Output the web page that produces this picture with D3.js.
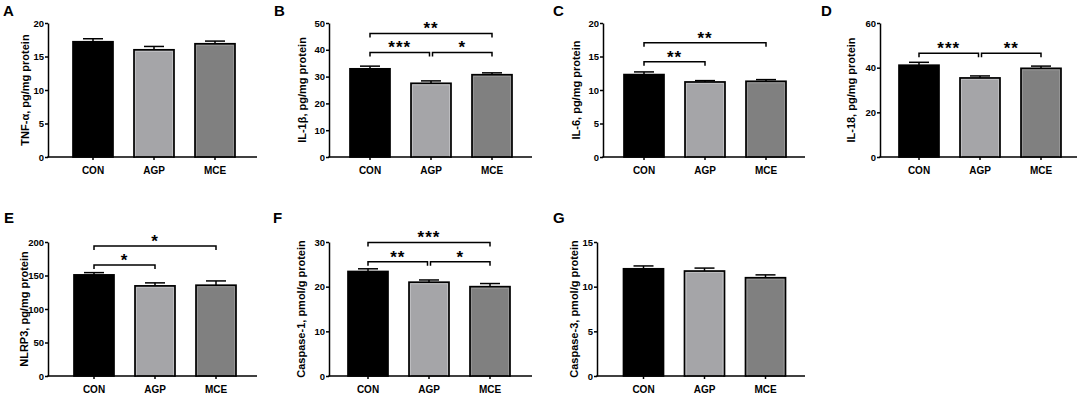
<!DOCTYPE html>
<html>
<head>
<meta charset="utf-8">
<script src="https://cdn.jsdelivr.net/npm/d3@7"></script>
<style>
  html, body { margin: 0; padding: 0; background: #fff; }
  svg { display: block; }
  text { font-family: "Liberation Sans", Arial, sans-serif; font-weight: bold; fill: #000; }
</style>
</head>
<body>
<svg id="chart" width="1084" height="395"></svg>
<script>
// ---------- data ----------
const groups = ["CON", "AGP", "MCE"];
const panelLetters = ["A", "B", "C", "D", "E", "F", "G"];
const yTitles = [
  "TNF-\u03b1, pg/mg protein",
  "IL-1\u03b2, pg/mg protein",
  "IL-6, pg/mg protein",
  "IL-18, pg/mg protein",
  "NLRP3, pg/mg protein",
  "Caspase-1, pmol/g protein",
  "Caspase-3, pmol/g protein"
];
const tnfMean = [17.2, 16.0, 16.9],   tnfSem = [0.45, 0.5, 0.4];
const il1bMean = [32.9, 27.5, 30.7],  il1bSem = [1.0, 0.9, 0.7];
const il6Mean = [12.3, 11.2, 11.3],   il6Sem = [0.4, 0.2, 0.25];
const il18Mean = [41.1, 35.4, 39.7],  il18Sem = [1.3, 0.9, 1.0];
const nlrp3Mean = [150.9, 134.5, 135.5], nlrp3Sem = [3.4, 4.5, 6.4];
const casp1Mean = [23.4, 21.0, 20.0], casp1Sem = [0.6, 0.5, 0.7];
const casp3Mean = [12.0, 11.75, 11.0], casp3Sem = [0.32, 0.33, 0.32];

const yTicksA = [0, 5, 10, 15, 20];
const yTicksB = [0, 10, 20, 30, 40, 50];
const yTicksC = [0, 5, 10, 15, 20];
const yTicksD = [0, 20, 40, 60];
const yTicksE = [0, 50, 100, 150, 200];
const yTicksF = [0, 10, 20, 30];
const yTicksG = [0, 5, 10, 15];

// significance brackets: [fromIndex, toIndex, height (data units), label]
const sigA = [];
const sigB = [[0, 2, 46.1, "**"], [0, 1, 39.0, "***"], [1, 2, 39.0, "*"]];
const sigC = [[0, 2, 17.05, "**"], [0, 1, 14.2, "**"]];
const sigD = [[0, 1, 46.4, "***"], [1, 2, 46.4, "**"]];
const sigE = [[0, 2, 194, "*"], [0, 1, 165.7, "*"]];
const sigF = [[0, 2, 29.9, "***"], [0, 1, 25.6, "**"], [1, 2, 25.6, "*"]];
const sigG = [];

const barColors = ["#000000", "#a5a5a8", "#808080"];

// ---------- layout (positions only) ----------
const layout = [
  { axisX: 48,  c0: 93,  xEnd: 257,  top: 23,  bottom: 157, titleX: 25,  letterX: 3,   letterY: 16 },
  { axisX: 329, c0: 370, xEnd: 532,  top: 23,  bottom: 157, titleX: 302, letterX: 274, letterY: 16 },
  { axisX: 603, c0: 644, xEnd: 805,  top: 23,  bottom: 157, titleX: 576, letterX: 553, letterY: 16 },
  { axisX: 880, c0: 919, xEnd: 1077, top: 23,  bottom: 157, titleX: 851, letterX: 821, letterY: 16 },
  { axisX: 48,  c0: 94,  xEnd: 257,  top: 242, bottom: 376, titleX: 23.5, letterX: 4,  letterY: 223 },
  { axisX: 329, c0: 368, xEnd: 532,  top: 242, bottom: 376, titleX: 301, letterX: 273, letterY: 223 },
  { axisX: 597, c0: 643.5, xEnd: 805, top: 242, bottom: 376, titleX: 574, letterX: 553, letterY: 223 }
];

const means = [tnfMean, il1bMean, il6Mean, il18Mean, nlrp3Mean, casp1Mean, casp3Mean];
const sems = [tnfSem, il1bSem, il6Sem, il18Sem, nlrp3Sem, casp1Sem, casp3Sem];
const ticks = [yTicksA, yTicksB, yTicksC, yTicksD, yTicksE, yTicksF, yTicksG];
const sigs = [sigA, sigB, sigC, sigD, sigE, sigF, sigG];

const svg = d3.select("#chart");
svg.append("rect").attr("width", 1084).attr("height", 395).attr("fill", "#fff");

layout.forEach((L, i) => {
  const g = svg.append("g");
  const step = 61, bw = 40;
  const pad = (step - bw) / step;
  const rangeStart = L.c0 - bw / 2 - pad * step;
  const x = d3.scaleBand().domain(groups)
    .range([rangeStart, rangeStart + step * (3 + pad)])
    .paddingInner(pad).paddingOuter(pad);
  const tk = ticks[i];
  const y = d3.scaleLinear().domain([0, tk[tk.length - 1]]).range([L.bottom, L.top]);

  const data = groups.map((c, j) => ({ c, m: means[i][j], s: sems[i][j], col: barColors[j] }));

  // error bars
  const eb = g.append("g");
  data.forEach(d => {
    const cx = x(d.c) + x.bandwidth() / 2;
    eb.append("line").attr("x1", cx).attr("x2", cx)
      .attr("y1", y(d.m)).attr("y2", y(d.m + d.s))
      .attr("stroke", "#000").attr("stroke-width", 1.5);
    eb.append("line").attr("x1", cx - 10).attr("x2", cx + 10)
      .attr("y1", y(d.m + d.s)).attr("y2", y(d.m + d.s))
      .attr("stroke", "#000").attr("stroke-width", 1.5);
  });

  // bars
  g.append("g").selectAll("rect").data(data).join("rect")
    .attr("x", d => x(d.c))
    .attr("y", d => y(d.m))
    .attr("width", x.bandwidth())
    .attr("height", d => y(0) - y(d.m))
    .attr("fill", d => d.col)
    .attr("stroke", "#000")
    .attr("stroke-width", 1.7);
  g.append("g").selectAll("rect").data(data.slice(1)).join("rect")
    .attr("x", d => x(d.c) + 1.6)
    .attr("y", d => y(d.m) + 1.6)
    .attr("width", x.bandwidth() - 3.2)
    .attr("height", d => y(0) - y(d.m) - 1.6)
    .attr("fill", "none")
    .attr("stroke", d => d.c === "AGP" ? "#c4c4c6" : "#9a9a9a")
    .attr("stroke-width", 0.8);

  // y axis
  const yAxis = d3.axisLeft(y).tickValues(tk).tickSize(3).tickPadding(1).tickSizeOuter(0);
  const ya = g.append("g").attr("transform", `translate(${L.axisX},0)`).call(yAxis);
  ya.select(".domain").attr("stroke-width", 1.5);
  ya.selectAll(".tick line").attr("stroke-width", 1.5);
  ya.selectAll(".tick text").attr("font-size", 9.5).attr("font-weight", "bold")
    .attr("font-family", '"Liberation Sans", Arial, sans-serif');

  // x axis
  const xAxis = d3.axisBottom(x).tickSize(3).tickPadding(7).tickSizeOuter(0);
  const xa = g.append("g").attr("transform", `translate(0,${L.bottom})`).call(xAxis);
  xa.select(".domain").remove();
  xa.append("line").attr("x1", L.axisX - 0.75).attr("x2", L.xEnd)
    .attr("y1", 0).attr("y2", 0).attr("stroke", "#000").attr("stroke-width", 1.5);
  xa.selectAll(".tick line").attr("stroke-width", 1.5);
  xa.selectAll(".tick text").attr("font-size", 10).attr("font-weight", "bold")
    .attr("font-family", '"Liberation Sans", Arial, sans-serif');

  // y title
  g.append("text")
    .attr("transform", `translate(${L.titleX},${(L.top + L.bottom) / 2}) rotate(-90)`)
    .attr("text-anchor", "middle").attr("dominant-baseline", "central")
    .attr("font-size", 11).text(yTitles[i]);

  // panel letter
  g.append("text").attr("x", L.letterX).attr("y", L.letterY)
    .attr("font-size", 15).text(panelLetters[i]);

  // significance brackets
  sigs[i].forEach(([a, b, h, lab]) => {
    const shareLeft = sigs[i].some(s => s[1] === a && s[2] === h);
    const shareRight = sigs[i].some(s => s[0] === b && s[2] === h);
    const xa1 = x(groups[a]) + x.bandwidth() / 2 + (shareLeft ? 1.5 : 0);
    const xb1 = x(groups[b]) + x.bandwidth() / 2 - (shareRight ? 1.5 : 0);
    const yy = y(h);
    g.append("path")
      .attr("d", `M${xa1},${yy + 4}V${yy}H${xb1}V${yy + 4}`)
      .attr("fill", "none").attr("stroke", "#000").attr("stroke-width", 1.5);
    g.append("text").attr("x", (xa1 + xb1) / 2).attr("y", yy + 1)
      .attr("text-anchor", "middle").attr("font-size", 17)
      .attr("letter-spacing", 1).text(lab);
  });
});
</script>
</body>
</html>
